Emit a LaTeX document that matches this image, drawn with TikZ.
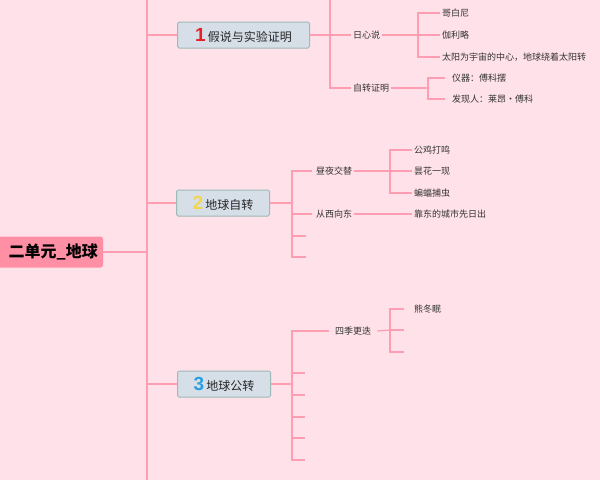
\documentclass[tikz,border=0pt]{standalone}
\usepackage{fontspec}
\newfontfamily\cjk{Noto Sans CJK SC}
\newfontfamily\numfont{Liberation Sans}
\usetikzlibrary{positioning}
\definecolor{bgpink}{HTML}{FFE1E9}
\definecolor{linkpink}{HTML}{FF9DB2}
\definecolor{boxfill}{HTML}{D6DEE7}
\definecolor{boxline}{HTML}{9DBAB6}
\definecolor{rootfill}{HTML}{FF8FA5}
\newcommand\topicnum[2]{{\color[HTML]{#1}\numfont\bfseries\fontsize{19}{19}\selectfont #2}}
\tikzset{
  link/.style={draw=linkpink,line width=1.3pt},
  topicbox/.style={draw=boxline,fill=boxfill,rounded corners=1.5pt,line width=1pt,
    minimum height=26pt,inner xsep=6pt,font=\cjk\fontsize{12}{14}\selectfont,text=black!85},
  leaf/.style={anchor=west,inner sep=2pt,font=\cjk\fontsize{9}{11}\selectfont,text=black!80}
}
\begin{document}
\begin{tikzpicture}[x=1pt,y=-1pt]
\fill[bgpink] (0,0) rectangle (600,480);
\useasboundingbox (0,0) rectangle (600,480);
% root
\fill[rootfill,rounded corners=2.5pt] (-10,236.5) rectangle (103,267.5);
\node[anchor=east,inner xsep=5pt,
  font=\cjk\bfseries\fontsize{16}{18}\selectfont] (root) at (103,252) {二单元\_地球};
% main branches
\node[topicbox,anchor=west,minimum width=132pt] (b1) at (177,35) {\topicnum{E8202A}{1}\,假说与实验证明};
\node[topicbox,anchor=west,minimum width=93pt] (b2) at (176,203) {\topicnum{F5D64A}{2}\,地球自转};
\node[topicbox,anchor=west,minimum width=93pt] (b3) at (177,384) {\topicnum{2A9FE0}{3}\,地球公转};
\coordinate (trunk top) at (147,0);
\coordinate (trunk bot) at (147,480);
\draw[link] (root.east) -- ++(44,0);
\draw[link] (trunk top) -- (trunk bot);
\foreach \b in {b1,b2,b3} \draw[link] (trunk top |- \b.west) -- (\b.west);
% branch 1
\node[leaf] (h1) at (351,35) {日心说};
\node[leaf] (h2) at (351,88) {自转证明};
\node[leaf] (h11) at (440,13) {哥白尼};
\node[leaf] (h12) at (440,35) {伽利略};
\node[leaf] (h13) at (440,57) {太阳为宇宙的中心，地球绕着太阳转};
\node[leaf] (h21) at (450,78) {仪器：傅科摆};
\node[leaf] (h22) at (450,99) {发现人：莱昂•傅科};
\draw[link] (b1.east) -- (330,35);
\draw[link] (330,0) |- (h2.west);
\draw[link] (330,35) -- (h1.west);
\draw[link] (h1.east) -- (418,35);
\foreach \c in {h11,h12,h13} \draw[link] (418,35) |- (\c.west);
\draw[link] (h2.east) -- (428,88);
\foreach \c in {h21,h22} \draw[link] (428,88) |- ([xshift=-5pt]\c.west);
% branch 2
\node[leaf] (r1) at (314,171) {昼夜交替};
\node[leaf] (r2) at (314,214) {从西向东};
\coordinate (r3) at (306,236);
\coordinate (r4) at (306,257);
\node[leaf] (r11) at (412,150) {公鸡打鸣};
\node[leaf] (r12) at (412,171) {昙花一现};
\node[leaf] (r13) at (412,193) {蝙蝠捕虫};
\node[leaf] (r21) at (412,214) {靠东的城市先日出};
\draw[link] (b2.east) -- (292,203);
\foreach \c in {r1,r2} \draw[link] (292,203) |- ([xshift=-2pt]\c.west);
\foreach \c in {r3,r4} \draw[link] (292,203) |- (\c);
\draw[link] (r1.east) -- (390,171);
\foreach \c in {r11,r12,r13} \draw[link] (390,171) |- (\c.west);
\draw[link] (r2.east) -- (r21.west);
% branch 3
\node[leaf] (g1) at (333,331) {四季更迭};
\foreach \y [count=\i from 2] in {373,395,417,438,460}
  \coordinate (g\i) at (305,\y);
\node[leaf] (g11) at (412,309) {熊冬眠};
\coordinate (g12) at (404,330);
\coordinate (g13) at (404,352);
\draw[link] (b3.east) -- (292,384);
\draw[link] (292,384) |- ([xshift=-4pt]g1.west);
\foreach \i in {2,...,6} \draw[link] (292,384) |- (g\i);
\draw[link] ([xshift=4pt]g1.east) -- (390,330);
\draw[link] (390,330) |- ([xshift=-8pt]g11.west);
\foreach \c in {g12,g13} \draw[link] (390,330) |- (\c);
\end{tikzpicture}
\end{document}
